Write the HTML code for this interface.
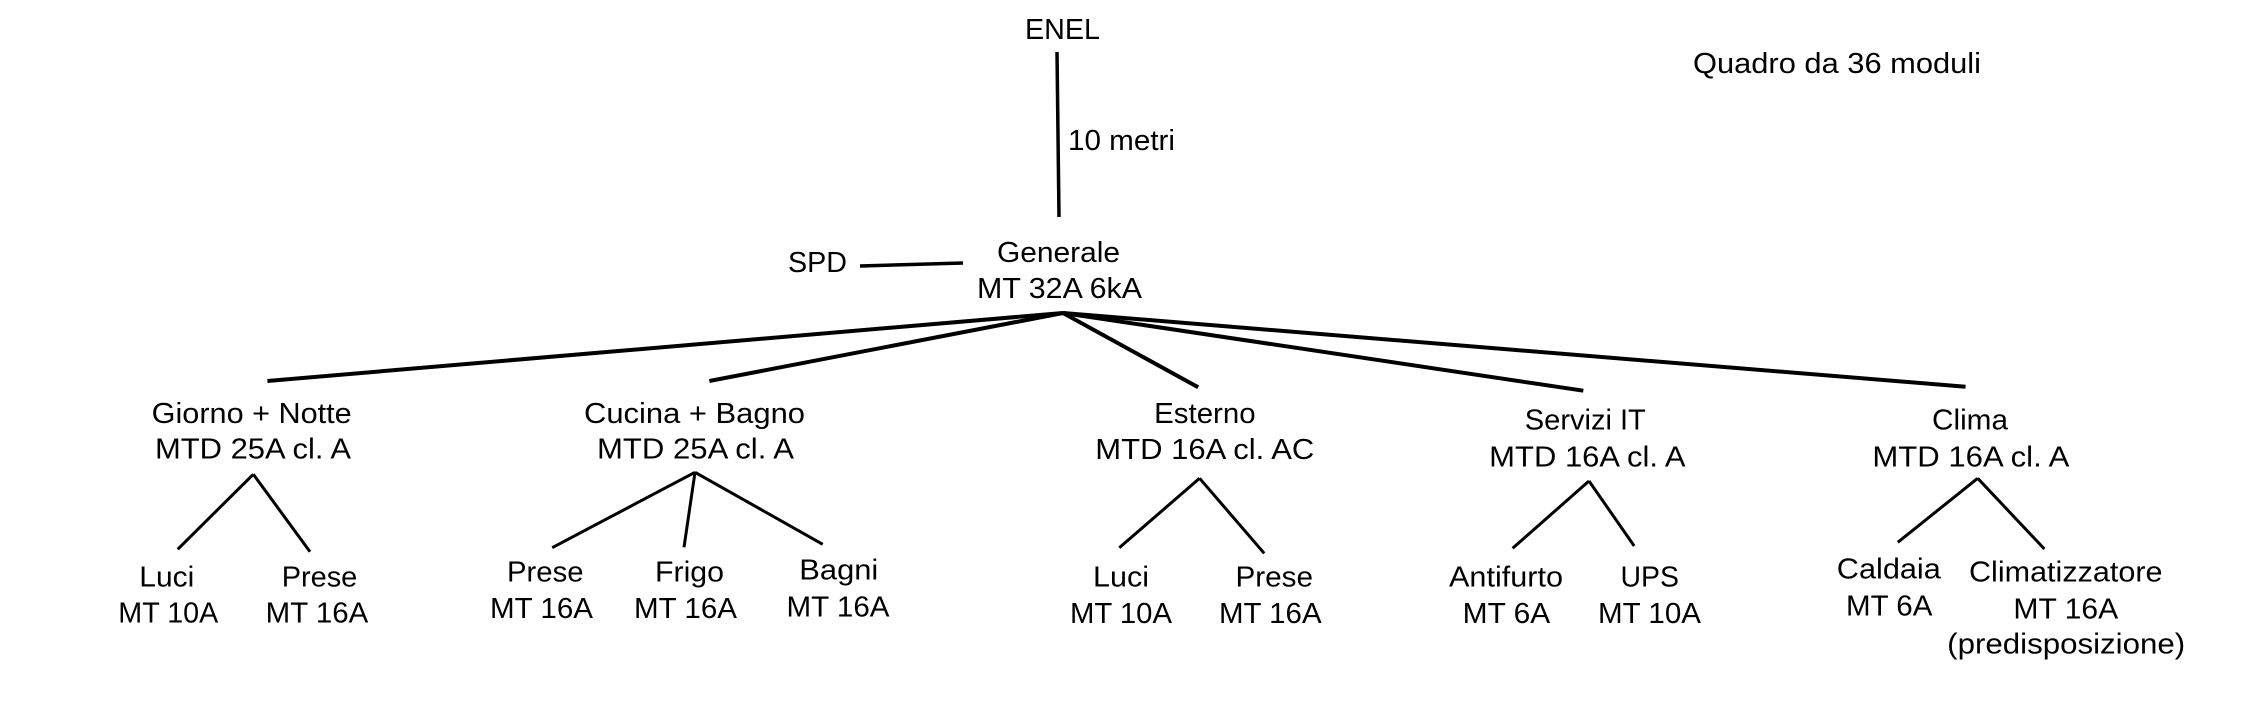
<!DOCTYPE html>
<html>
<head>
<meta charset="utf-8">
<style>
  html, body { margin:0; padding:0; background:#fff; }
  body { width:2248px; height:726px; overflow:hidden; }
  svg { display:block; }
  text { font-family:"Liberation Sans", Arial, sans-serif; font-size:29px; fill:#000; }
</style>
</head>
<body>
<svg width="2248" height="726" viewBox="0 0 2248 726" xmlns="http://www.w3.org/2000/svg">
  <rect width="2248" height="726" fill="#fff"/>
  <g stroke="#000" stroke-linecap="butt" fill="none">
    <!-- ENEL vertical -->
    <line x1="1057" y1="52" x2="1059" y2="217" stroke-width="3.5"/>
    <!-- SPD -->
    <line x1="860" y1="266" x2="963" y2="263" stroke-width="3.5"/>
    <!-- main fan -->
    <g stroke-width="4">
      <line x1="1063" y1="313" x2="267.4" y2="381"/>
      <line x1="1063" y1="313" x2="709.4" y2="381"/>
      <line x1="1063" y1="313" x2="1198.2" y2="387.3"/>
      <line x1="1063" y1="313" x2="1583.3" y2="390.7"/>
      <line x1="1063" y1="313" x2="1965.5" y2="386.7"/>
    </g>
    <!-- sub fans -->
    <g stroke-width="3">
      <line x1="253.3" y1="474.3" x2="177.7" y2="549.3"/>
      <line x1="253.3" y1="474.3" x2="310" y2="551.7"/>

      <line x1="695" y1="472.3" x2="552.2" y2="547.7"/>
      <line x1="695" y1="472.3" x2="684" y2="547.3"/>
      <line x1="695" y1="472.3" x2="822.7" y2="544.3"/>

      <line x1="1199.6" y1="478.3" x2="1119.3" y2="547.7"/>
      <line x1="1199.6" y1="478.3" x2="1264.2" y2="553.3"/>

      <line x1="1589" y1="481" x2="1512.6" y2="548.3"/>
      <line x1="1589" y1="481" x2="1634.2" y2="546"/>

      <line x1="1977.7" y1="478.3" x2="1897.8" y2="542.3"/>
      <line x1="1977.7" y1="478.3" x2="2044.4" y2="549"/>
    </g>
  </g>

  <!-- top texts -->
  <text x="1025" y="39" textLength="75" lengthAdjust="spacingAndGlyphs">ENEL</text>
  <text x="1068" y="150" textLength="107" lengthAdjust="spacingAndGlyphs">10 metri</text>
  <text x="1693" y="73" textLength="288" lengthAdjust="spacingAndGlyphs">Quadro da 36 moduli</text>
  <text x="997" y="262" textLength="123" lengthAdjust="spacingAndGlyphs">Generale</text>
  <text x="977" y="298" textLength="165" lengthAdjust="spacingAndGlyphs">MT 32A 6kA</text>
  <text x="788" y="272" textLength="59" lengthAdjust="spacingAndGlyphs">SPD</text>

  <!-- Giorno + Notte -->
  <text x="151.7" y="423" textLength="200" lengthAdjust="spacingAndGlyphs">Giorno + Notte</text>
  <text x="155" y="458.5" textLength="196" lengthAdjust="spacingAndGlyphs">MTD 25A cl. A</text>
  <text x="139.3" y="586.7" textLength="55" lengthAdjust="spacingAndGlyphs">Luci</text>
  <text x="118.3" y="622.5" textLength="100" lengthAdjust="spacingAndGlyphs">MT 10A</text>
  <text x="281.7" y="586.7" textLength="75.6" lengthAdjust="spacingAndGlyphs">Prese</text>
  <text x="265.7" y="622.5" textLength="102.6" lengthAdjust="spacingAndGlyphs">MT 16A</text>

  <!-- Cucina + Bagno -->
  <text x="584" y="423" textLength="221" lengthAdjust="spacingAndGlyphs">Cucina + Bagno</text>
  <text x="597" y="458.5" textLength="197" lengthAdjust="spacingAndGlyphs">MTD 25A cl. A</text>
  <text x="507" y="581.7" textLength="76.5" lengthAdjust="spacingAndGlyphs">Prese</text>
  <text x="490" y="618" textLength="103" lengthAdjust="spacingAndGlyphs">MT 16A</text>
  <text x="655" y="581.7" textLength="69" lengthAdjust="spacingAndGlyphs">Frigo</text>
  <text x="634" y="618" textLength="103" lengthAdjust="spacingAndGlyphs">MT 16A</text>
  <text x="799.3" y="579.3" textLength="79" lengthAdjust="spacingAndGlyphs">Bagni</text>
  <text x="786.5" y="616.7" textLength="103" lengthAdjust="spacingAndGlyphs">MT 16A</text>

  <!-- Esterno -->
  <text x="1154.2" y="423" textLength="101.4" lengthAdjust="spacingAndGlyphs">Esterno</text>
  <text x="1095.3" y="459" textLength="219" lengthAdjust="spacingAndGlyphs">MTD 16A cl. AC</text>
  <text x="1093" y="586.7" textLength="56" lengthAdjust="spacingAndGlyphs">Luci</text>
  <text x="1070" y="623" textLength="102" lengthAdjust="spacingAndGlyphs">MT 10A</text>
  <text x="1235.5" y="586.7" textLength="77.5" lengthAdjust="spacingAndGlyphs">Prese</text>
  <text x="1219" y="623" textLength="102.6" lengthAdjust="spacingAndGlyphs">MT 16A</text>

  <!-- Servizi IT -->
  <text x="1524.8" y="429.3" textLength="121" lengthAdjust="spacingAndGlyphs">Servizi IT</text>
  <text x="1489.2" y="466.7" textLength="196.4" lengthAdjust="spacingAndGlyphs">MTD 16A cl. A</text>
  <text x="1449" y="586.7" textLength="114" lengthAdjust="spacingAndGlyphs">Antifurto</text>
  <text x="1462.7" y="623" textLength="87.6" lengthAdjust="spacingAndGlyphs">MT 6A</text>
  <text x="1620.5" y="586.7" textLength="58.5" lengthAdjust="spacingAndGlyphs">UPS</text>
  <text x="1598" y="623" textLength="103" lengthAdjust="spacingAndGlyphs">MT 10A</text>

  <!-- Clima -->
  <text x="1932" y="429.3" textLength="76" lengthAdjust="spacingAndGlyphs">Clima</text>
  <text x="1872.4" y="466.7" textLength="197" lengthAdjust="spacingAndGlyphs">MTD 16A cl. A</text>
  <text x="1836.8" y="578.3" textLength="104" lengthAdjust="spacingAndGlyphs">Caldaia</text>
  <text x="1846" y="615.7" textLength="86.4" lengthAdjust="spacingAndGlyphs">MT 6A</text>
  <text x="1969" y="581.7" textLength="193.5" lengthAdjust="spacingAndGlyphs">Climatizzatore</text>
  <text x="2013.4" y="618.3" textLength="104.8" lengthAdjust="spacingAndGlyphs">MT 16A</text>
  <text x="1947.2" y="653.3" textLength="238" lengthAdjust="spacingAndGlyphs">(predisposizione)</text>
</svg>
</body>
</html>
